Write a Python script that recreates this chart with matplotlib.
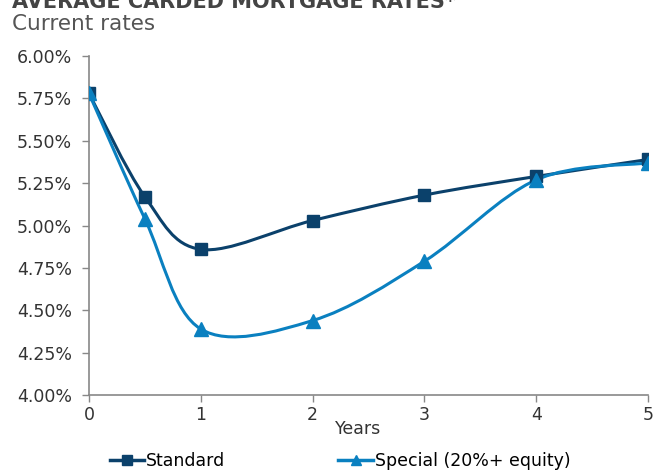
import numpy as np
import matplotlib
matplotlib.use("Agg")
import matplotlib.pyplot as plt
from matplotlib.path import Path
from matplotlib.patches import PathPatch
from matplotlib.lines import Line2D

years = [0, 0.5, 1, 2, 3, 4, 5]
standard = [5.78, 5.17, 4.86, 5.03, 5.18, 5.29, 5.39]
special = [5.78, 5.04, 4.39, 4.44, 4.79, 5.27, 5.37]
ytick_vals = [4.00, 4.25, 4.50, 4.75, 5.00, 5.25, 5.50, 5.75, 6.00]

c_std = "#0b416b"
c_spc = "#0a80c0"


def smooth_path(x, y):
    # Excel-style smoothed line: Catmull-Rom converted to cubic Bezier segments
    x = np.asarray(x, float)
    y = np.asarray(y, float)
    px = np.concatenate([[x[0]], x, [x[-1]]])
    py = np.concatenate([[y[0]], y, [y[-1]]])
    verts = [(x[0], y[0])]
    codes = [Path.MOVETO]
    for i in range(1, len(x)):
        p0 = np.array([px[i - 1], py[i - 1]])
        p1 = np.array([px[i], py[i]])
        p2 = np.array([px[i + 1], py[i + 1]])
        p3 = np.array([px[i + 2], py[i + 2]])
        c1 = p1 + (p2 - p0) / 6
        c2 = p2 - (p3 - p1) / 6
        verts += [tuple(c1), tuple(c2), tuple(p2)]
        codes += [Path.CURVE4] * 3
    return Path(verts, codes)


fig = plt.figure(figsize=(6.54, 4.71), dpi=100)
ax = fig.add_axes([0.136, 0.161, 0.855, 0.72])

for ys, col, mk, ms in [(standard, c_std, "s", 8.5), (special, c_spc, "^", 9.5)]:
    ax.add_patch(PathPatch(smooth_path(years, ys), facecolor="none",
                           edgecolor=col, lw=2.2, zorder=3))
    ax.plot(years, ys, ls="none", marker=mk, ms=ms, color=col, zorder=4)

ax.set_xlim(0, 5)
ax.set_ylim(4.0, 6.0)
ax.set_xticks(range(6))
ax.set_yticks(ytick_vals)
ax.set_yticklabels([f"{v:.2f}%" for v in ytick_vals])
ax.tick_params(labelsize=12.5, colors="#333333", length=5, width=1,
               direction="out")
ax.tick_params(axis="y", pad=7)
ax.tick_params(axis="x", pad=3)
ax.tick_params(axis="both", color="#888888")
for s in ["top", "right"]:
    ax.spines[s].set_visible(False)
for s in ["left", "bottom"]:
    ax.spines[s].set_color("#888888")
    ax.spines[s].set_linewidth(1.2)
ax.set_xlabel("Years", fontsize=12.5, color="#333333", labelpad=-4)
ax.xaxis.set_label_coords(0.482, -0.073)

fig.text(0.018, 0.995, "AVERAGE CARDED MORTGAGE RATES*", fontsize=15,
         fontweight="bold", color="#444444", va="center", ha="left")
fig.text(0.018, 0.948, "Current rates", fontsize=15.5, color="#555555",
         va="center", ha="left")

handles = [Line2D([], [], color=c_std, lw=2.5, marker="s", ms=7),
           Line2D([], [], color=c_spc, lw=2.5, marker="^", ms=7)]
fig.legend(handles, ["Standard", "Special (20%+ equity)"], loc="center",
           bbox_to_anchor=(0.52, 0.022), ncol=2, frameon=False,
           fontsize=12.5, handlelength=2.0, handletextpad=0.1,
           columnspacing=6.5)

fig.savefig("out.png", dpi=100)
